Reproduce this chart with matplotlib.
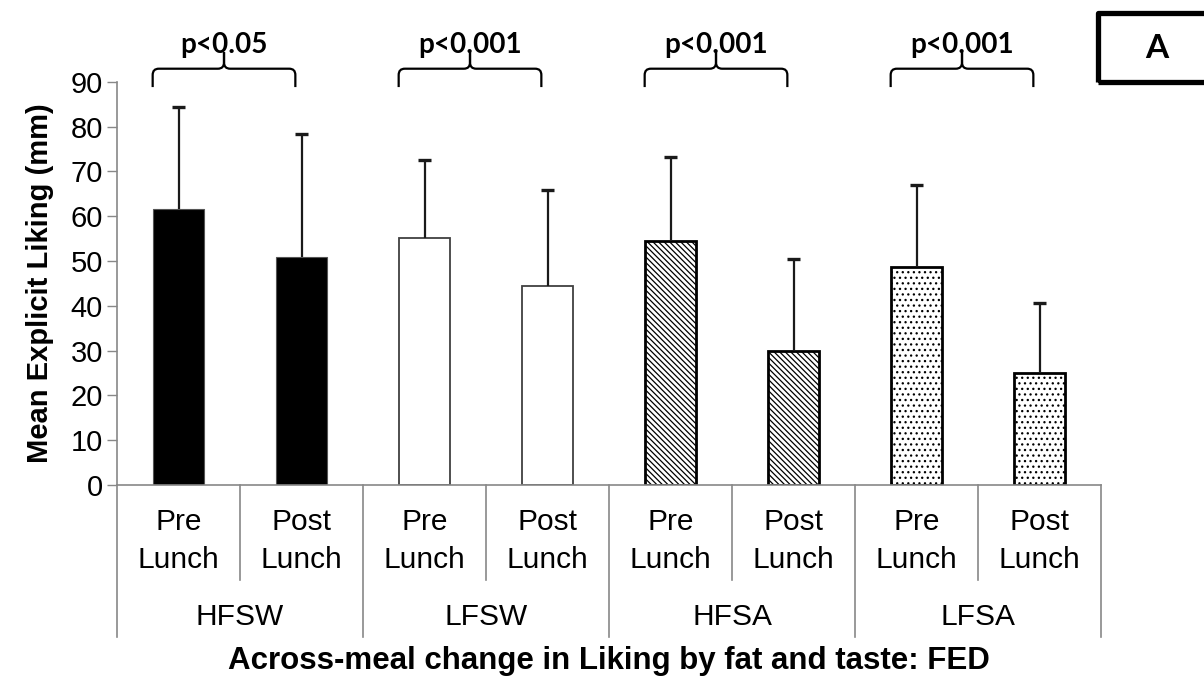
import numpy as np
import matplotlib
matplotlib.use("Agg")
import matplotlib.pyplot as plt
from matplotlib.patches import PathPatch, Rectangle
from matplotlib.path import Path
import matplotlib.transforms as mtransforms

# ---- data -------------------------------------------------------------
groups = ["HFSW", "LFSW", "HFSA", "LFSA"]
times = ["Pre\nLunch", "Post\nLunch"]
means = [61.7, 50.9, 55.1, 44.3, 54.5, 29.8, 48.7, 25.1]
sds = [22.7, 27.4, 17.4, 21.5, 18.6, 20.6, 18.3, 15.6]
p_labels = ["p<0.05", "p<0.001", "p<0.001", "p<0.001"]

W, H = 1204, 679
plt.rcParams["font.family"] = ["Liberation Sans", "DejaVu Sans"]
plt.rcParams["hatch.linewidth"] = 0.9

fig = plt.figure(figsize=(W / 100, H / 100), dpi=100)
ax = fig.add_axes([117 / W, 1 - 485 / H, (1101 - 117) / W, (485 - 81.7) / H])

x = np.arange(len(means))
styles = [
    dict(color="black", edgecolor="#555555", linewidth=0.8),
    dict(color="white", edgecolor="#404040", linewidth=1.3),
    dict(color="white", edgecolor="black", linewidth=2.0, hatch="\\\\\\\\\\\\"),
    dict(color="white", edgecolor="black", linewidth=2.0, hatch="..."),
]
for i in range(len(means)):
    st = styles[i // 2]
    ax.bar(x[i], means[i], width=0.41, zorder=2, **st)

# upward-only error bars with caps
tops = np.array(means) + np.array(sds)
ax.vlines(x, means, tops, color="#1a1a1a", linewidth=1.6, zorder=3)
ax.hlines(tops, x - 0.05, x + 0.05, color="#1a1a1a", linewidth=2.4, zorder=3)

ax.set_xlim(-0.5, len(means) - 0.5)
ax.set_ylim(0, 90)
ax.set_yticks(range(0, 91, 10))
ax.tick_params(axis="y", labelsize=21, length=7, width=1, color="#888888",
               pad=3)
ax.set_xticks([])
for s in ["top", "right"]:
    ax.spines[s].set_visible(False)
for s in ["left", "bottom"]:
    ax.spines[s].set_color("#888888")
    ax.spines[s].set_linewidth(1.2)
ax.set_ylabel("Mean Explicit Liking (mm)", fontsize=21, fontweight="bold",
              labelpad=12)

# hierarchical category axis
trans = mtransforms.blended_transform_factory(ax.transData, ax.transAxes)
for i in range(len(means)):
    ax.text(x[i], -0.139, times[i % 2], transform=trans, ha="center",
            va="center", fontsize=21.5, linespacing=1.42)
    if i % 2 == 1:
        ax.plot([i - 0.5, i - 0.5], [0, -0.236], transform=trans,
                color="#888888", lw=1.2, clip_on=False)
for g in range(len(groups) + 1):
    ax.plot([2 * g - 0.5, 2 * g - 0.5], [0, -0.378], transform=trans,
            color="#888888", lw=1.2, clip_on=False)
for g, name in enumerate(groups):
    ax.text(2 * g + 0.5, -0.327, name, transform=trans, ha="center",
            va="center", fontsize=21.5)
ax.text(3.5, -0.436, "Across-meal change in Liking by fat and taste: FED",
        transform=trans, ha="center", va="center", fontsize=22.5,
        fontweight="bold")


def brace(x0, x1, ybot, ytop, ytip, rx=0.05, ry=1.4):
    xm = (x0 + x1) / 2
    verts = [(x0, ybot), (x0, ytop - ry), (x0, ytop), (x0 + rx, ytop),
             (xm - rx, ytop), (xm, ytop), (xm, ytop + ry), (xm, ytip)]
    codes = [Path.MOVETO, Path.LINETO, Path.CURVE3, Path.CURVE3,
             Path.LINETO, Path.CURVE3, Path.CURVE3, Path.LINETO]
    for side in (verts, [(2 * xm - vx, vy) for vx, vy in verts]):
        ax.add_patch(PathPatch(Path(side, codes), fill=False, lw=1.6,
                               edgecolor="black", clip_on=False, zorder=4))


for g, lab in enumerate(p_labels):
    x0, x1 = 2 * g - 0.21, 2 * g + 0.95
    brace(x0, x1, 88.8, 92.9, 96.6)
    ax.text((x0 + x1) / 2, 98.1, lab, ha="center", va="center", fontsize=20,
            fontweight="bold", family=["Lato", "DejaVu Sans"], clip_on=False,
            zorder=5)

# panel label box
fig.patches.append(Rectangle((1098 / W, 1 - 82 / H), 130 / W, 69 / H,
                             transform=fig.transFigure, fill=False,
                             edgecolor="black", linewidth=3.8,
                             joinstyle="round"))
fig.text(1157 / W, 1 - 48 / H, "A", ha="center", va="center", fontsize=24,
         fontweight="bold", family=["Lato", "DejaVu Sans"])

fig.savefig("out.png", dpi=100)
